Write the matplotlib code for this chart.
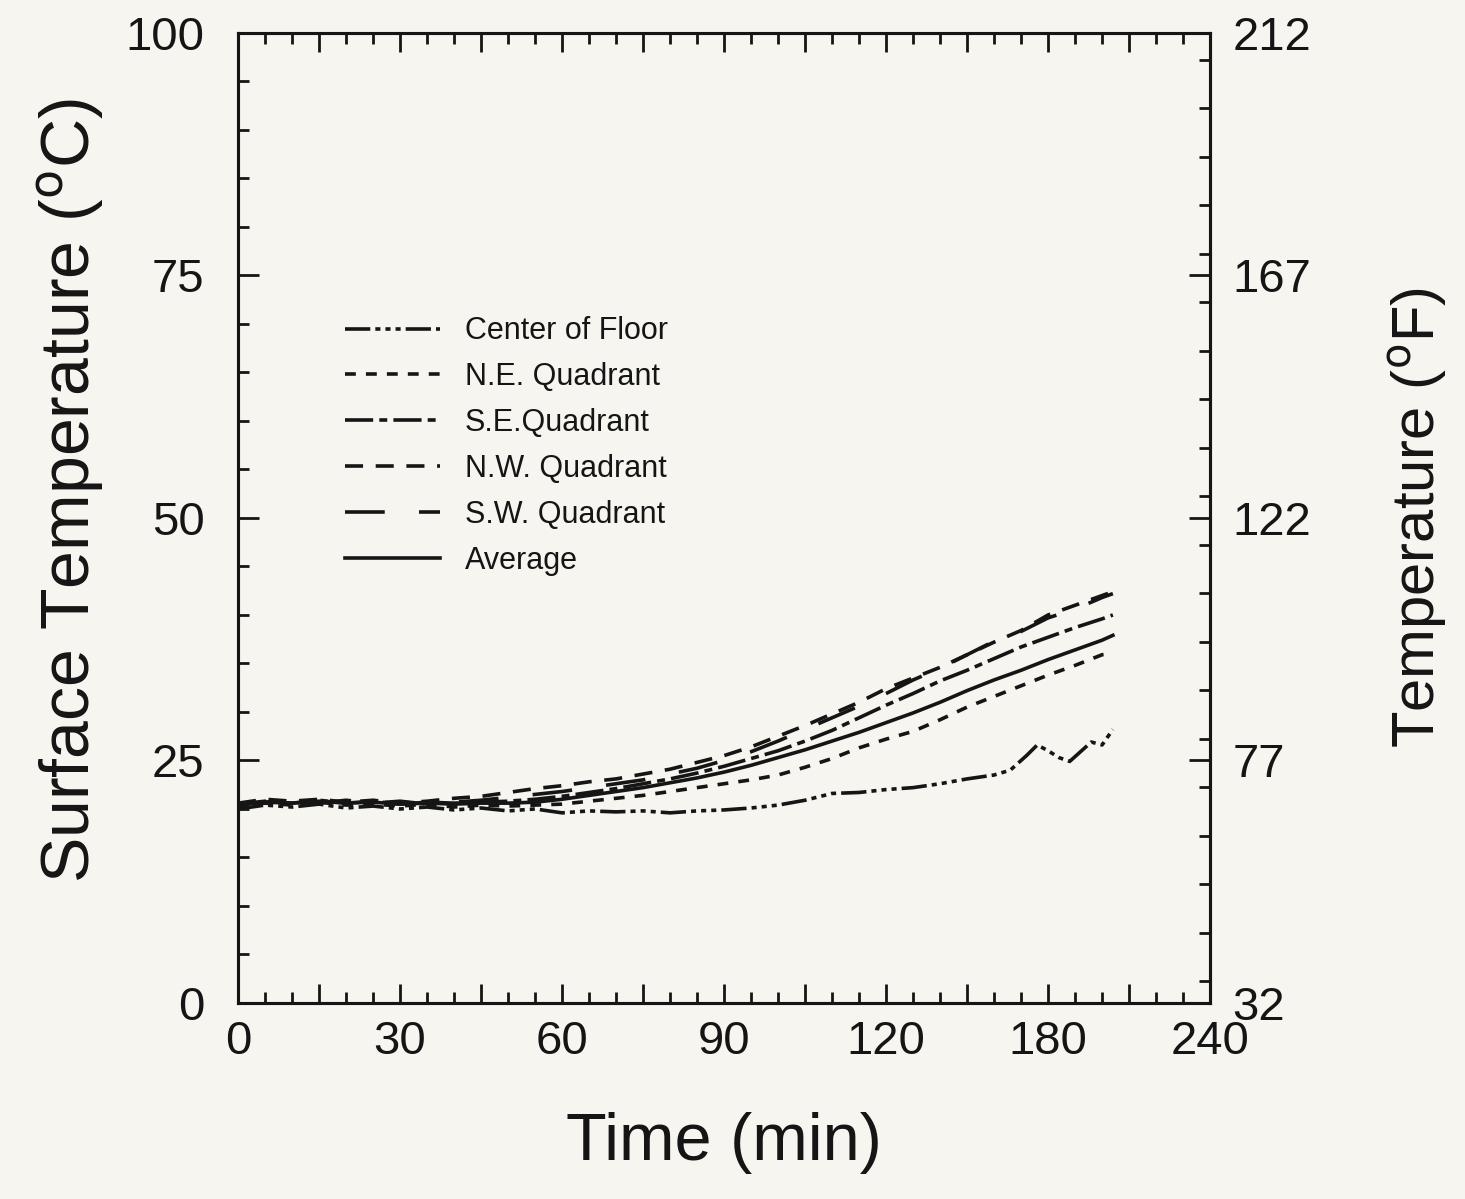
import numpy as np
import matplotlib
matplotlib.use("Agg")
import matplotlib.pyplot as plt
from matplotlib.ticker import MultipleLocator

plt.rcParams['font.family'] = ['Liberation Sans', 'DejaVu Sans']

# time axis (min) shared by the quadrant curves
time = [0, 5, 10, 15, 20, 25, 30, 35, 40, 45, 50, 55, 60, 65, 70, 75, 80,
        85, 90, 95, 100, 105, 110, 115, 120, 125, 130, 135, 140, 145, 150,
        155, 160, 162]

nw_quad = [20.6, 21.0, 20.8, 21.0, 20.7, 20.9, 20.6, 20.8, 21.1, 21.3, 21.7,
           22.1, 22.4, 22.8, 23.1, 23.6, 24.1, 24.8, 25.5, 26.4, 27.5, 28.6,
           29.8, 31.0, 32.4, 33.5, 34.6, 35.9, 37.2, 38.4, 40.0, 41.0, 42.0, 42.4]
sw_quad = [20.4, 20.7, 21.0, 20.6, 20.9, 20.6, 20.8, 20.5, 20.7, 20.9, 21.2,
           21.5, 21.8, 22.2, 22.6, 23.0, 23.6, 24.2, 25.0, 25.9, 27.0, 28.2,
           29.4, 30.6, 31.9, 33.3, 34.5, 35.9, 37.3, 38.3, 39.7, 40.6, 41.8, 42.2]
se_quad = [20.5, 20.8, 20.6, 20.9, 20.6, 20.8, 20.5, 20.7, 20.6, 20.7, 20.8,
           21.0, 21.3, 21.7, 22.1, 22.6, 23.1, 23.7, 24.4, 25.2, 26.0, 27.0,
           28.1, 29.4, 30.7, 31.9, 33.2, 34.3, 35.5, 36.7, 37.7, 38.7, 39.6, 40.0]
ne_quad = [20.3, 20.6, 20.4, 20.7, 20.4, 20.5, 20.3, 20.5, 20.2, 20.4, 20.3,
           20.4, 20.5, 20.8, 21.1, 21.4, 21.8, 22.2, 22.6, 23.0, 23.5, 24.3,
           25.2, 26.3, 27.2, 28.0, 29.2, 30.5, 31.6, 32.7, 33.8, 34.8, 35.9, 36.0]
average = [20.5, 20.7, 20.6, 20.8, 20.6, 20.7, 20.5, 20.6, 20.5, 20.6, 20.6,
           20.7, 21.0, 21.4, 21.8, 22.2, 22.7, 23.2, 23.8, 24.5, 25.3, 26.1,
           27.0, 27.9, 28.9, 29.9, 31.0, 32.2, 33.3, 34.3, 35.4, 36.4, 37.4, 37.9]

center_time = [0, 5, 10, 15, 20, 25, 30, 35, 40, 45, 50, 55, 60, 65, 70, 75,
               80, 85, 90, 95, 100, 105, 110, 115, 120, 125, 130, 135, 140,
               143, 146, 148, 150, 152, 154, 156, 158, 160, 162]
center = [20.0, 20.4, 20.2, 20.5, 20.1, 20.3, 20.0, 20.2, 19.9, 20.1, 19.8,
          20.0, 19.6, 19.8, 19.7, 19.8, 19.6, 19.8, 19.9, 20.1, 20.4, 20.9,
          21.6, 21.7, 22.0, 22.2, 22.6, 23.1, 23.5, 24.0, 25.5, 26.6, 26.0,
          25.3, 24.9, 25.9, 26.9, 26.6, 28.2]

x_tick_labels = ["0", "30", "60", "90", "120", "180", "240"]
c_ticks = [0, 25, 50, 75, 100]
f_ticks = [32, 77, 122, 167, 212]

bg = '#f6f5ef'
ink = '#151515'

fig = plt.figure(figsize=(14.65, 11.99), dpi=100, facecolor=bg)
ax = fig.add_axes([0.1625, 0.1635, 0.6635, 0.809], facecolor=bg)

lw = 2.6
ax.plot(center_time, center, color=ink, lw=lw, dashes=(7, 1.4, 1.4, 1.4, 1.4, 1.4, 1.4, 1.4), label='Center of Floor')
ax.plot(time, ne_quad, color=ink, lw=lw, dashes=(3, 2.8), label='N.E. Quadrant')
ax.plot(time, se_quad, color=ink, lw=lw, dashes=(7.8, 1.7, 2.2, 1.7), label='S.E.Quadrant')
ax.plot(time, nw_quad, color=ink, lw=lw, dashes=(5, 3.5), label='N.W. Quadrant')
ax.plot(time, sw_quad, color=ink, lw=lw, dashes=(11, 9.5), label='S.W. Quadrant')
ax.plot(time, average, color=ink, lw=lw, label='Average')

ax.set_xlim(0, 180)
ax.set_ylim(0, 100)

# major ticks every 15 min, labels only every 30
ax.set_xticks(np.arange(0, 181, 15))
lbls = []
for i in range(13):
    lbls.append(x_tick_labels[i // 2] if i % 2 == 0 else "")
ax.set_xticklabels(lbls)
ax.xaxis.set_minor_locator(MultipleLocator(5))
ax.set_yticks(c_ticks)
ax.yaxis.set_minor_locator(MultipleLocator(5))

ax.tick_params(axis='x', which='both', direction='in', top=True, bottom=True,
               width=2, color=ink, labelsize=34, pad=12, labelcolor=ink)
ax.tick_params(axis='x', which='major', length=14)
ax.tick_params(axis='x', which='minor', length=8)
ax.tick_params(axis='y', which='both', direction='in', left=True, right=False,
               width=2, color=ink, labelsize=34, pad=24, labelcolor=ink)
ax.tick_params(axis='y', which='major', length=15)
ax.tick_params(axis='y', which='minor', length=8)
for s in ax.spines.values():
    s.set_linewidth(2.2)
    s.set_color(ink)

ax2 = ax.twinx()
ax2.set_ylim(32, 212)
ax2.set_yticks(f_ticks)
ax2.yaxis.set_minor_locator(MultipleLocator(9))
ax2.tick_params(axis='y', which='both', direction='in', width=2, color=ink,
                labelsize=34, pad=16, labelcolor=ink)
ax2.tick_params(axis='y', which='major', length=15)
ax2.tick_params(axis='y', which='minor', length=8)
for s in ax2.spines.values():
    s.set_linewidth(2.2)
    s.set_color(ink)

ax.set_xlabel('Time (min)', fontsize=48, color=ink, labelpad=35)
ax.set_ylabel(r'Surface Temperature ($^{\mathrm{o}}$C)', fontsize=49, color=ink)
ax.yaxis.set_label_coords(-0.136, 0.528)
ax2.set_ylabel(r'Temperature ($^{\mathrm{o}}$F)', fontsize=43, color=ink)
ax2.yaxis.set_label_coords(1.181, 0.5)

leg = ax.legend(loc='upper left', bbox_to_anchor=(0.110, 0.708), frameon=False,
                fontsize=22, handlelength=3.1, handletextpad=0.82,
                labelspacing=0.52, borderpad=0, borderaxespad=0)
for t in leg.get_texts():
    t.set_color(ink)

fig.savefig('out.png', dpi=100, facecolor=bg)
